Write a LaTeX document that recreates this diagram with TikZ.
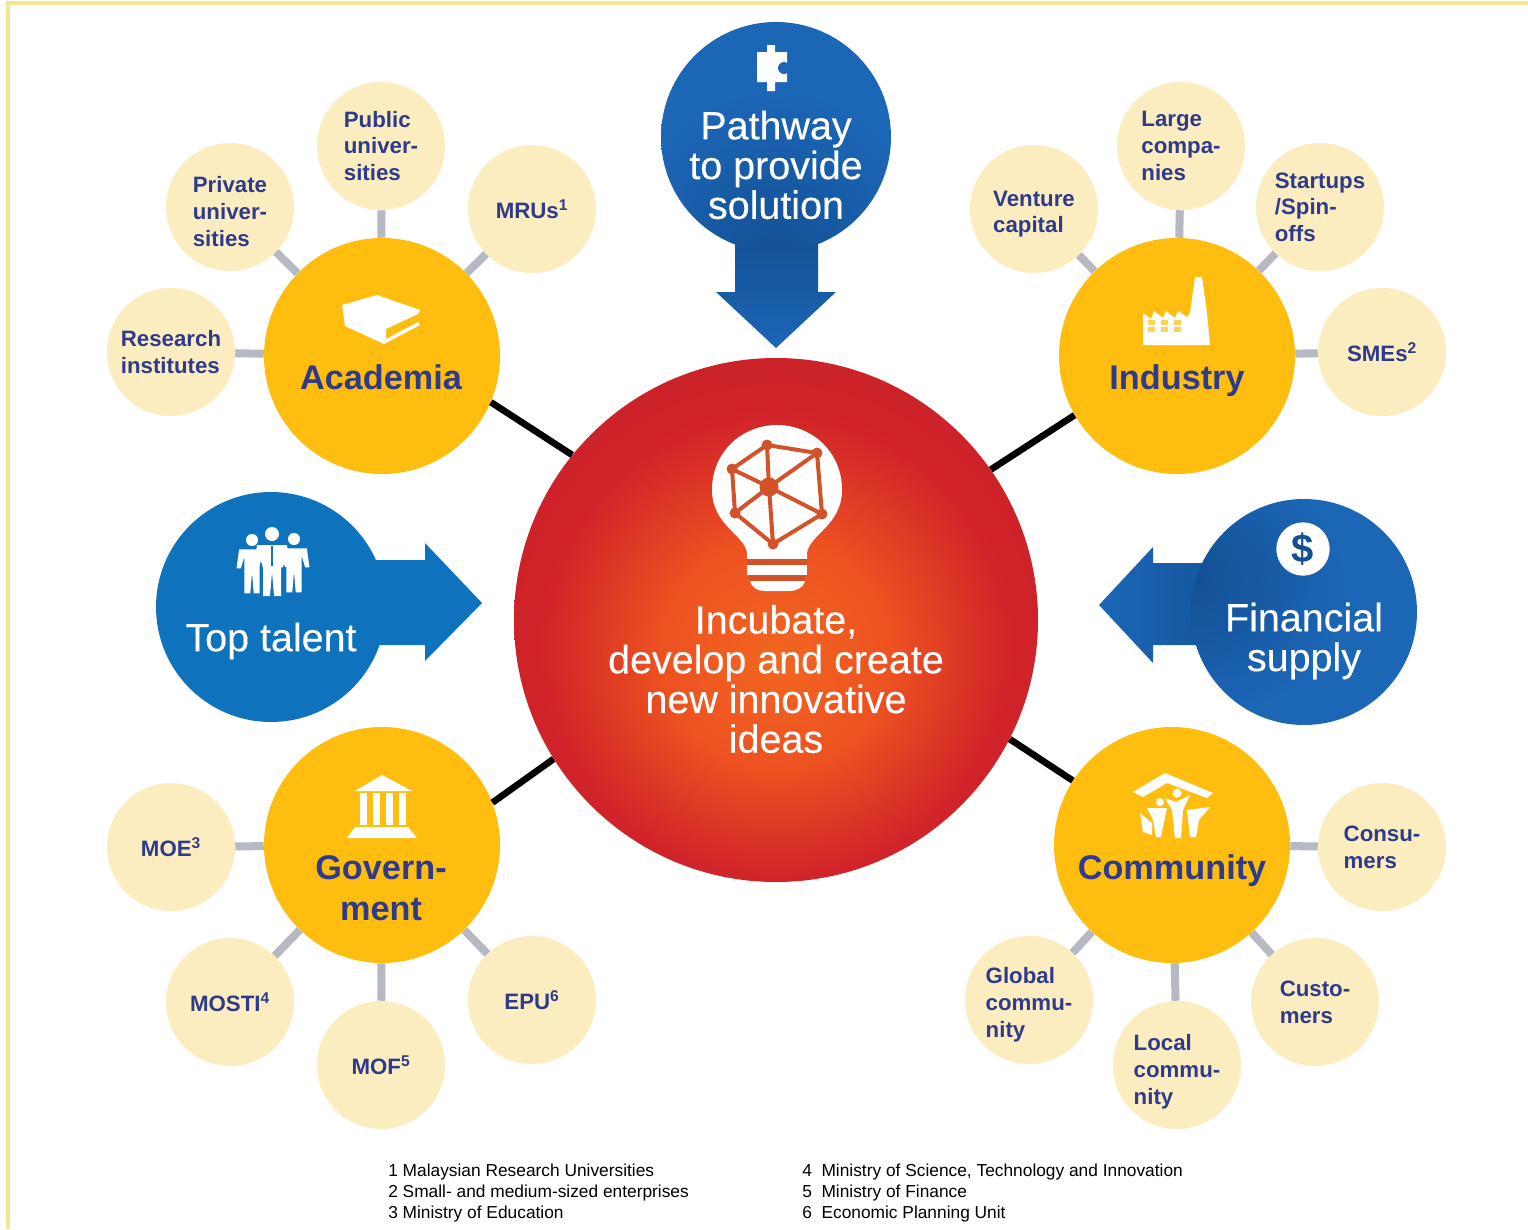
\documentclass[tikz,border=0pt]{standalone}
\usepackage{fontspec}
\setmainfont{Liberation Sans}
\definecolor{framey}{HTML}{F4E592}
\definecolor{navytext}{HTML}{2F3B8A}
\definecolor{discy}{HTML}{FFBD10}
\definecolor{paley}{HTML}{FBEDBF}
\definecolor{spokeg}{HTML}{B6B8C2}
\definecolor{talentb}{HTML}{0F72BC}
\definecolor{supplyb}{HTML}{1C66B6}
\definecolor{deepb}{HTML}{124F93}
\definecolor{netred}{HTML}{D2522A}
\pgfdeclareradialshading{hubglow}{\pgfpoint{0bp}{-4bp}}{rgb(0bp)=(0.95,0.40,0.13); rgb(11bp)=(0.93,0.32,0.13); rgb(22bp)=(0.82,0.14,0.16); rgb(34bp)=(0.77,0.12,0.16); rgb(60bp)=(0.77,0.12,0.16)}
\pgfdeclareradialshading{pathglow}{\pgfpoint{0bp}{-28bp}}{color(0bp)=(deepb); color(30bp)=(supplyb); color(100bp)=(supplyb)}
\pgfdeclareradialshading{supplyglow}{\pgfpoint{-26bp}{8bp}}{color(0bp)=(deepb); color(28bp)=(supplyb); color(100bp)=(supplyb)}
\newcommand{\lowertext}[1]{\rule{0pt}{#1}}
\tikzset{
  hubdisc/.style={circle,minimum size=393pt,inner sep=0pt,shading=hubglow},
  bigdisc/.style={circle,minimum size=177pt,inner sep=0pt,fill=discy},
  smalldisc/.style={circle,minimum size=96pt,inner sep=0pt,fill=paley,text=navytext,align=left,font=\fontsize{16.7}{20}\selectfont\bfseries},
  bluedisc/.style={circle,minimum size=172.5pt,inner sep=0pt},
  bigtext/.style={inner sep=0pt,text=navytext,align=center,font=\fontsize{25.7}{30.7}\selectfont\bfseries},
  whitetext/.style={inner sep=0pt,text=white,align=center,font=\fontsize{29.6}{29.8}\selectfont\addfontfeature{FakeBold=0.25}},
  notetext/.style={anchor=west,inner sep=0pt,align=left,font=\fontsize{13}{15.4}\selectfont},
  spoke/.style={draw=spokeg,line width=6pt},
  linkline/.style={draw=black,line width=5pt},
  netedge/.style={draw=netred,line width=3pt}
}
\begin{document}
\begin{tikzpicture}[x=0.75pt,y=0.75pt,yscale=-1,xscale=1]
\useasboundingbox (0,0) rectangle (1528,1229);

%Frame
\draw [framey,line width=2.4pt] (1528,3) -- (8,3) -- (8,1229);

%Arrows behind the blue discs
\shade [top color=deepb,bottom color=supplyb] (735,225) -- (818,225) -- (818,292) -- (836,292) -- (776,348) -- (716,292) -- (735,292) -- cycle;
\fill [talentb] (340,560) -- (425,560) -- (425,543) -- (482,603) -- (425,661) -- (425,645) -- (340,645) -- cycle;
\shade [left color=supplyb,right color=deepb!70!supplyb] (1220,563) -- (1153,563) -- (1153,547) -- (1099,605) -- (1153,663) -- (1153,645) -- (1220,645) -- cycle;

%Centre
\draw (776,620) node (hub) [hubdisc] {};
\draw (776,137) node (pathway) [bluedisc,shading=pathglow] {};
\draw (271,607) node (talent) [bluedisc,fill=talentb] {};
\draw (1304,612) node (supply) [bluedisc,minimum size=169.5pt,shading=supplyglow] {};

%Big discs
\draw (382,356) node (academia) [bigdisc] {};
\draw (1177,356) node (industry) [bigdisc] {};
\draw (382,845) node (government) [bigdisc] {};
\draw (1172,845) node (community) [bigdisc] {};

%Small discs
\draw (171,352) node (research) [smalldisc] {Research\\institutes};
\draw (230,207) node (privateuni) [smalldisc] {\lowertext{19pt}Private\\univer-\\sities};
\draw (381,146) node (publicuni) [smalldisc] {Public\\univer-\\sities};
\draw (532,209) node (mrus) [smalldisc] {MRUs\textsuperscript{1}};
\draw (1034,209) node (venture) [smalldisc] {\lowertext{19pt}Venture\\capital};
\draw (1181,146) node (large) [smalldisc] {Large\\compa-\\nies};
\draw (1320,207) node (startups) [smalldisc] {Startups\\/Spin-\\offs};
\draw (1382,352) node (smes) [smalldisc] {SMEs\textsuperscript{2}};
\draw (171,847) node (moe) [smalldisc] {MOE\textsuperscript{3}};
\draw (230,1002) node (mosti) [smalldisc] {MOSTI\textsuperscript{4}};
\draw (381,1065) node (mof) [smalldisc] {MOF\textsuperscript{5}};
\draw (532,1000) node (epu) [smalldisc] {EPU\textsuperscript{6}};
\draw (1382,847) node (consumers) [smalldisc] {Consu-\\mers};
\draw (1315,1002) node (customers) [smalldisc] {Custo-\\mers};
\draw (1177,1065) node (localcom) [smalldisc] {\lowertext{22pt}Local\\commu-\\nity};
\draw (1029,1000) node (globalcom) [smalldisc] {\lowertext{19pt}Global\\commu-\\nity};

%Connectors
\foreach \a/\aa/\b in {academia/-23.5/141,industry/210/35.3,government/21.3/212,community/147.4/-27.5}
  \draw [linkline] (\a.\aa) -- (hub.\b);
\foreach \a/\b in {research/academia,privateuni/academia,publicuni/academia,mrus/academia,
  venture/industry,large/industry,startups/industry,smes/industry,
  moe/government,mosti/government,mof/government,epu/government,
  consumers/community,customers/community,localcom/community,globalcom/community}
  \draw [spoke] (\a) -- (\b);

%Bulb
\fill [white] (747,559) -- (747,553) .. controls (745,535) and (712,525) .. (712,490) .. controls (712,452) and (742,425) .. (777,425) .. controls (812,425) and (842,452) .. (842,490) .. controls (842,525) and (809,535) .. (807,553) -- (807,559) -- cycle;
\fill [netred] (747,559) rectangle (807,565);
\fill [white] (747,565) rectangle (807,575);
\fill [netred] (750,575) rectangle (805,581);
\fill [white] (750,581) -- (805,581) .. controls (803,588) and (796,591) .. (790,591) -- (765,591) .. controls (758,591) and (752,588) .. (750,581) -- cycle;
\coordinate (n0) at (769,487);
\coordinate (n1) at (767,445);
\coordinate (n2) at (817,453);
\coordinate (n3) at (822,514);
\coordinate (n4) at (773,544);
\coordinate (n5) at (735,513);
\coordinate (n6) at (732,469);
\draw [netedge,line join=round] (n1) -- (n2) -- (n3) -- (n4) -- (n5) -- (n6) -- cycle;
\foreach \k in {1,...,6}
  \draw [netedge] (n0) -- (n\k);
\foreach \k in {1,...,6}
  \fill [netred] (n\k) circle (5.5);
\fill [netred] (n0) circle (9.5);

%Book
\fill [white] (342,305) -- (377,295) -- (420,310) -- (418,314) -- (386,329) -- (386,339) -- (418,322) -- (420,325) -- (384,344) -- (345,326) -- cycle;

%Factory
\fill [white] (1143,345) -- (1143,313) -- (1151,319) -- (1154,311) -- (1163,318) -- (1166,311) -- (1175,318) -- (1178,311) -- (1187,317) -- (1190,313) -- (1195,277) -- (1202,277) -- (1207,313) -- (1210,345) -- cycle;
\foreach \wx in {1148,1161,1174}
  \foreach \wy in {320,327}
    \fill [discy!70!white] (\wx,\wy) rectangle ++(7,5);

%Community
\fill [white] (1133,792) -- (1165,773) -- (1213,793) -- (1207,798) -- (1167,783) -- (1143,797) -- cycle;
\fill [white] (1177,793) circle (4.5);
\fill [white] (1160,802) circle (4);
\fill [white] (1165,798) -- (1176,802) -- (1190,795) -- (1183,810) -- (1181,838) -- (1175,838) -- (1172,810) -- cycle;
\fill [white] (1147,808) -- (1167,808) -- (1164,822) -- (1161,837) -- (1156,837) -- (1153,820) -- cycle;
\fill [white] (1210,807) -- (1187,810) -- (1190,837) -- (1196,837) -- (1199,820) -- cycle;
\fill [white] (1140,813) -- (1152,823) -- (1152,835) -- (1143,832) -- cycle;

%People
\foreach \px/\py/\ps in {252/540/0.86,294/539/0.86,272/534/1}{
  \begin{scope}[shift={(\px,\py)},scale=\ps]
    \fill [white] (0,0) circle (7);
    \fill [white] (-15,11) -- (15,11) -- (18,33) -- (13,33) -- (9,20) -- (9,62) -- (2,62) -- (0,38) -- (-2,62) -- (-9,62) -- (-9,20) -- (-13,33) -- (-18,33) -- cycle;
  \end{scope}
}
\draw [talentb,line width=0.8pt] (272,546) -- (272,566);

%Temple
\fill [white] (382,775) -- (412,791) -- (355,791) -- cycle;
\foreach \cx in {360,373,386,399}
  \fill [white] (\cx,793) rectangle ++(7,32);
\fill [white] (355,827) -- (408,827) -- (417,838) -- (347,838) -- cycle;

%Puzzle
\fill [white] (757,52) -- (767,52) -- (767,45) -- (775,45) -- (775,52) -- (787,52) -- (787,82) -- (775,82) -- (775,91) -- (767,91) -- (767,82) -- (757,82) -- cycle;
\fill [supplyb] (784,68) circle (6);

%Coin
\draw (1303,549) node (coin) [circle,fill=white,minimum size=40pt,inner sep=0pt,text=deepb,font=\fontsize{30}{30}\selectfont\bfseries] {\$};

% Text Node
\draw (776,679) node (hubtext) [whitetext] {Incubate,\\develop and create\\new innovative\\ideas};
% Text Node
\draw (776,165) node (pathtext) [whitetext] {Pathway\\to provide\\solution};
% Text Node
\draw (271,641) node (talenttext) [whitetext] {Top talent};
% Text Node
\draw (1304,641) node (supplytext) [whitetext] {Financial\\supply};
% Text Node
\draw (381,377) node (academiatext) [bigtext] {Academia};
% Text Node
\draw (1177,381) node (industrytext) [bigtext] {Industry};
% Text Node
\draw (381,888) node (governmenttext) [bigtext] {Govern-\\ment};
% Text Node
\draw (1172,871) node (communitytext) [bigtext] {Community};
% Text Node
\draw (388,1193) node (notesleft) [notetext] {1 Malaysian Research Universities\\2 Small- and medium-sized enterprises\\3 Ministry of Education};
% Text Node
\draw (802,1193) node (notesright) [notetext] {4~~Ministry of Science, Technology and Innovation\\5~~Ministry of Finance\\6~~Economic Planning Unit};

\end{tikzpicture}
\end{document}
